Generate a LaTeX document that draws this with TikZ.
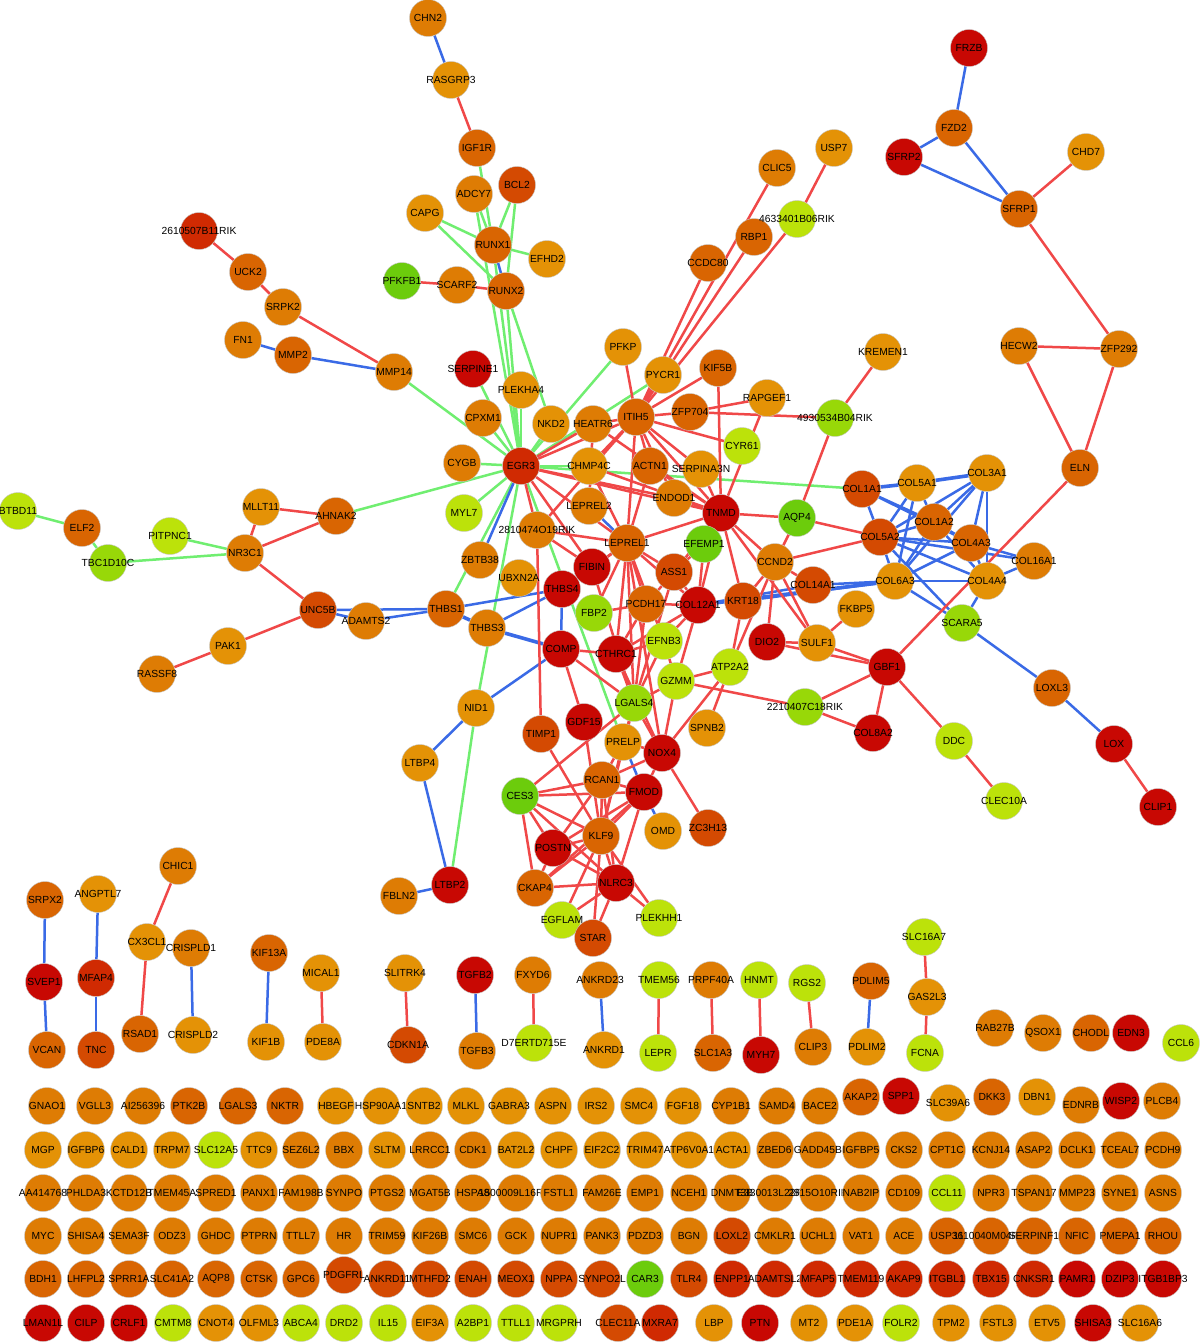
\documentclass[tikz,border=0pt]{standalone}
\usepackage{fontspec}
\setmainfont{Liberation Sans}
\definecolor{rA}{HTML}{C80803}
\definecolor{rB}{HTML}{D02A02}
\definecolor{rC}{HTML}{D44A02}
\definecolor{oA}{HTML}{D96502}
\definecolor{oB}{HTML}{DE7C04}
\definecolor{oC}{HTML}{E49206}
\definecolor{yA}{HTML}{BCE20A}
\definecolor{gA}{HTML}{98D808}
\definecolor{gB}{HTML}{6CCC0C}
\definecolor{edgered}{HTML}{F04848}
\definecolor{edgeblue}{HTML}{3A6AE6}
\definecolor{edgegreen}{HTML}{70EE70}
\pgfdeclarelayer{paper}
\pgfdeclarelayer{edges}
\pgfsetlayers{paper,edges,main}
\tikzset{
  gene/.style={circle, minimum size=37pt, inner sep=0pt, draw=black!22, line width=0.4pt},
  glabel/.style={font=\fontsize{10.3}{11}\selectfont, inner sep=0pt, text=black},
  redge/.style={draw=edgered, line width=2.5pt},
  bedge/.style={draw=edgeblue, line width=2.5pt},
  gedge/.style={draw=edgegreen, line width=2.5pt},
  thick edge/.style={line width=3.6pt}
}
\newcommand{\gene}[4]{\node[gene, fill=#4, label={[glabel]center:#1}] (#1) at (#2,#3) {};}
\begin{document}
\begin{tikzpicture}[x=1pt,y=-1pt]
\begin{pgfonlayer}{paper}
\fill[white] (0,0) rectangle (1200,1343);
\end{pgfonlayer}
\useasboundingbox (0,0) rectangle (1200,1343);

% main network
\foreach \n/\x/\y/\c in {
  CHN2/428/18/oB, RASGRP3/451/80/oC, IGF1R/477/148/oA, ADCY7/474/194/oB,
  BCL2/517/185/rC, CAPG/425/213/oC, RUNX1/493/245/oA, EFHD2/547/259/oC,
  PFKFB1/402/281/gB, SCARF2/457/285/oB, RUNX2/506/291/oA,
  2610507B11RIK/199/231/rB, UCK2/248/272/oA, SRPK2/283/307/oB,
  FN1/243/340/oB, MMP2/293/355/oA, MMP14/394/372/oB,
  SERPINE1/473/369/rA, PLEKHA4/521/390/oC, CPXM1/483/418/oB,
  PFKP/623/347/oC, PYCR1/663/375/oC, KIF5B/718/368/oA,
  NKD2/551/424/oC, HEATR6/593/424/oB, ITIH5/636/417/oA, ZFP704/690/412/oA,
  RAPGEF1/767/398/oC, 4930534B04RIK/835/418/gA, KREMEN1/883/352/oC,
  CYR61/742/446/yA, CCDC80/708/263/oA, RBP1/754/237/oA, CLIC5/777/168/oB,
  USP7/834/148/oC, 4633401B06RIK/797/219/yA,
  CYGB/462/463/oB, EGR3/521/466/rB, CHMP4C/589/466/oC, ACTN1/650/466/oA,
  SERPINA3N/701/469/oC, ENDOD1/674/498/oB, TNMD/721/513/rA,
  MYL7/464/513/yA, LEPREL2/589/506/oB, 2810474O19RIK/537/530/oB,
  LEPREL1/627/543/oA, EFEMP1/704/544/gB, ZBTB38/480/560/oB,
  UBXN2A/519/578/oC, FIBIN/592/567/rA, ASS1/674/572/rC,
  THBS4/562/589/rA, FBP2/594/613/gA, PCDH17/646/604/oA,
  COL12A1/698/605/rA, KRT18/743/601/rC,
  THBS1/446/609/oA, ADAMTS2/366/621/oB, THBS3/487/628/oB,
  COMP/561/649/rA, CTHRC1/616/654/rA, EFNB3/664/641/yA,
  GZMM/676/681/yA, LGALS4/634/703/gA, ATP2A2/730/667/yA,
  SPNB2/707/728/oC, NID1/476/708/oC, LTBP4/420/763/oC,
  TIMP1/541/734/rC, GDF15/584/722/rA, PRELP/623/742/oC,
  NOX4/662/753/rA, RCAN1/602/780/oA, FMOD/644/792/rA,
  CES3/520/796/gB, OMD/663/831/oC, ZC3H13/708/828/rC,
  KLF9/601/836/oA, POSTN/553/848/rA, CKAP4/535/888/oA,
  NLRC3/616/883/rA, EGFLAM/562/920/yA, STAR/593/938/rC,
  PLEKHH1/659/918/yA, LTBP2/450/885/rA, FBLN2/399/896/oB,
  MLLT11/261/507/oC, AHNAK2/336/516/oA, NR3C1/245/553/oB,
  PITPNC1/170/536/yA, TBC1D10C/108/563/gA, ELF2/82/528/oA,
  BTBD11/18/511/yA, UNC5B/318/610/rC, PAK1/228/646/oC, RASSF8/157/674/oB,
  CCND2/775/562/oB, AQP4/797/518/gB, COL14A1/813/585/rC,
  FKBP5/856/609/oC, DIO2/767/642/rA, SULF1/817/643/oC,
  GBF1/887/667/rA, 2210407C18RIK/805/707/gA, COL8A2/873/733/rA,
  DDC/954/741/yA, CLEC10A/1004/801/yA, SCARA5/962/623/gA,
  LOXL3/1052/688/oA, LOX/1114/744/rA, CLIP1/1158/807/rA,
  COL1A1/862/489/rC, COL5A1/917/483/oC, COL3A1/987/473/oC,
  COL1A2/934/522/oA, COL5A2/880/537/rC, COL4A3/971/543/oA,
  COL16A1/1034/561/oB, COL6A3/895/581/oC, COL4A4/987/581/oC,
  ELN/1080/468/oA, HECW2/1019/346/oB, ZFP292/1119/349/oB,
  SFRP1/1019/209/oA, CHD7/1086/152/oC, FZD2/954/128/oA,
  SFRP2/904/157/rA, FRZB/969/48/rA}
  {\gene{\n}{\x}{\y}{\c}}

% small groups
\foreach \n/\x/\y/\c in {
  SRPX2/45/900/oA, SVEP1/44/982/rA, VCAN/47/1050/oA,
  ANGPTL7/98/894/oC, MFAP4/96/978/rB, TNC/96/1050/rC,
  CHIC1/178/866/oB, CX3CL1/147/942/oC, RSAD1/140/1034/oA,
  CRISPLD1/191/948/oB, CRISPLD2/193/1035/oC,
  KIF13A/269/953/oA, KIF1B/266/1042/oC,
  MICAL1/321/973/oC, PDE8A/323/1042/oC,
  SLITRK4/405/973/oC, CDKN1A/408/1045/rC,
  TGFB2/475/975/rA, TGFB3/477/1051/oB,
  FXYD6/533/975/oB, D7ERTD715E/534/1043/yA,
  ANKRD23/600/980/oB, ANKRD1/604/1050/oC,
  TMEM56/659/980/yA, LEPR/658/1053/yA,
  PRPF40A/711/980/oB, SLC1A3/713/1053/oA,
  HNMT/759/980/yA, MYH7/761/1055/rA,
  RGS2/807/983/yA, CLIP3/813/1047/oB,
  PDLIM5/871/981/oA, PDLIM2/867/1047/oC,
  SLC16A7/924/937/yA, GAS2L3/927/997/oC, FCNA/925/1053/yA,
  RAB27B/995/1028/oB, QSOX1/1043/1033/oB, CHODL/1091/1033/oA,
  EDN3/1131/1033/rA, CCL6/1181/1043/yA}
  {\gene{\n}{\x}{\y}{\c}}

% unconnected genes
\foreach \n/\x/\y/\c in {
  GNAO1/47/1106/oB, VGLL3/95/1106/oB, AI256396/143/1106/oB, PTK2B/189/1106/oA,
  LGALS3/238/1106/oA, NKTR/285/1106/oA, HBEGF/336/1106/oC, HSP90AA1/381/1106/oC,
  SNTB2/424/1106/oC, MLKL/466/1106/oC, GABRA3/509/1106/oC, ASPN/553/1106/oC,
  IRS2/596/1106/oC, SMC4/639/1106/oC, FGF18/683/1106/oC, CYP1B1/731/1106/oB,
  SAMD4/777/1106/oB, BACE2/820/1106/oB, AKAP2/861/1097/oA, SPP1/901/1096/rA,
  SLC39A6/948/1103/oC, DKK3/992/1097/oA, DBN1/1037/1097/oC, EDNRB/1081/1105/oB,
  WISP2/1121/1101/rA, PLCB4/1162/1101/oB}
  {\gene{\n}{\x}{\y}{\c}}
\foreach \n/\x/\c in {
  MGP/43/oC, IGFBP6/86/oC, CALD1/129/oC, TRPM7/172/oC, SLC12A5/216/yA,
  TTC9/259/oC, SEZ6L2/301/oB, BBX/344/oB, SLTM/387/oC, LRRCC1/430/oB,
  CDK1/473/oB, BAT2L2/516/oC, CHPF/559/oC, EIF2C2/602/oC, TRIM47/645/oC,
  ATP6V0A1/689/oC, ACTA1/732/oC, ZBED6/775/oB, GADD45B/818/oB, IGFBP5/861/oB,
  CKS2/904/oB, CPT1C/947/oB, KCNJ14/991/oB, ASAP2/1034/oB, DCLK1/1077/oB,
  TCEAL7/1120/oB, PCDH9/1163/oB}
  {\gene{\n}{\x}{1150}{\c}}
\foreach \n/\x/\c in {
  AA414768/43/oB, PHLDA3/86/oB, KCTD12B/129/oB, TMEM45A/172/oB, SPRED1/216/oB,
  PANX1/259/oB, FAM198B/301/oB, SYNPO/344/oB, PTGS2/387/oB, MGAT5B/430/oB,
  HSPA8/473/oB, 1500009L16RIK/516/oB, FSTL1/559/oB, FAM26E/602/oB, EMP1/645/oB,
  NCEH1/689/oB, DNMT3B/732/oB, E330013L22RIK/775/oB, 2815O10RIK/818/oB,
  NAB2IP/861/oB, CD109/904/oB, CCL11/947/yA, NPR3/991/oB, TSPAN17/1034/oB,
  MMP23/1077/oB, SYNE1/1120/oB, ASNS/1163/oB}
  {\gene{\n}{\x}{1193}{\c}}
\foreach \n/\x/\c in {
  MYC/43/oB, SHISA4/86/oB, SEMA3F/129/oB, ODZ3/172/oB, GHDC/216/oB,
  PTPRN/259/oB, TTLL7/301/oB, HR/344/oB, TRIM59/387/oB, KIF26B/430/oB,
  SMC6/473/oB, GCK/516/oB, NUPR1/559/oB, PANK3/602/oB, PDZD3/645/oB,
  BGN/689/oB, LOXL2/732/rC, CMKLR1/775/oB, UCHL1/818/oB, VAT1/861/oB,
  ACE/904/oB, USP36/947/oA, 1110040M04RIK/991/oA, SERPINF1/1034/oA,
  NFIC/1077/oA, PMEPA1/1120/oA, RHOU/1163/oA}
  {\gene{\n}{\x}{1236}{\c}}
\foreach \n/\x/\c in {
  BDH1/43/oA, LHFPL2/86/oA, SPRR1A/129/oA, SLC41A2/172/oA, AQP8/216/oA,
  CTSK/259/oA, GPC6/301/oA, ANKRD11/387/rC, MTHFD2/430/rC,
  ENAH/473/rC, MEOX1/516/rC, NPPA/559/rC, SYNPO2L/602/rC, CAR3/645/gB,
  TLR4/689/rC, ENPP1/732/rB, ADAMTSL2/775/rB, MFAP5/818/rB, TMEM119/861/rB,
  AKAP9/904/rB, ITGBL1/947/rB, TBX15/991/rB, CNKSR1/1034/rB, PAMR1/1077/rA,
  DZIP3/1120/rA, ITGB1BP3/1163/rA}
  {\gene{\n}{\x}{1279}{\c}}
\gene{PDGFRL}{344}{1275}{rC}
\foreach \n/\x/\c in {
  LMAN1L/43/rA, CILP/86/rA, CRLF1/129/rA, CMTM8/173/yA, CNOT4/216/oC,
  OLFML3/259/oC, ABCA4/301/yA, DRD2/344/yA, IL15/388/yA, EIF3A/430/oC,
  A2BP1/473/yA, TTLL1/516/yA, MRGPRH/559/yA, CLEC11A/618/rC, MXRA7/660/rB,
  LBP/714/oC, PTN/760/rA, MT2/809/oC, PDE1A/855/oC, FOLR2/901/yA,
  TPM2/951/oC, FSTL3/998/oC, ETV5/1047/oC, SHISA3/1093/rA, SLC16A6/1140/oC}
  {\gene{\n}{\x}{1323}{\c}}

\begin{pgfonlayer}{edges}
% green links
\foreach \a/\b in {BTBD11/ELF2, ELF2/TBC1D10C, TBC1D10C/NR3C1, PITPNC1/NR3C1,
  AHNAK2/EGR3, MMP14/EGR3, SERPINE1/EGR3, PLEKHA4/EGR3, CPXM1/EGR3, CYGB/EGR3,
  MYL7/EGR3, NKD2/EGR3, PFKP/EGR3, PYCR1/EGR3, CHMP4C/EGR3, EGR3/COL1A1,
  EGR3/THBS1, EGR3/NID1, NID1/LTBP2, EGR3/PRELP, RUNX1/EGR3, RUNX2/EGR3,
  ADCY7/EGR3, RUNX2/NKD2, IGF1R/RUNX1, ADCY7/RUNX1, CAPG/RUNX1, CAPG/RUNX2,
  BCL2/RUNX1, BCL2/RUNX2, EFHD2/RUNX1}
  \draw[gedge] (\a) -- (\b);
% blue links
\foreach \a/\b in {CHN2/RASGRP3, FN1/MMP2, MMP2/MMP14, RUNX1/RUNX2, EGR3/ZBTB38,
  LEPREL2/LEPREL1, UNC5B/ADAMTS2, UNC5B/THBS1, ADAMTS2/THBS1, THBS1/THBS4,
  THBS3/THBS4, THBS4/COMP, COMP/NID1, NID1/LTBP4, LTBP4/LTBP2, LTBP2/FBLN2,
  PRELP/FMOD, FMOD/OMD, COL12A1/COL14A1, COL14A1/COL6A3, KRT18/COL6A3,
  COL1A1/COL1A2, COL1A1/COL5A2, COL1A1/COL4A3, COL5A1/COL5A2, COL5A1/COL6A3,
  COL5A1/COL1A2, COL3A1/COL1A2, COL3A1/COL5A2, COL3A1/COL4A3, COL3A1/COL4A4,
  COL3A1/COL6A3, COL1A2/COL5A2, COL1A2/COL6A3, COL1A2/COL4A3, COL1A2/COL4A4,
  COL5A2/COL4A3, COL5A2/COL4A4, COL5A2/COL6A3, COL5A2/COL16A1, COL4A3/COL4A4,
  COL4A3/COL16A1, COL4A4/COL16A1, COL6A3/COL4A4, COL6A3/COL4A3, COL6A3/SCARA5,
  COL4A4/SCARA5, COL5A2/SCARA5, SCARA5/LOXL3, LOXL3/LOX, FZD2/FRZB, FZD2/SFRP2,
  FZD2/SFRP1, SFRP2/SFRP1,
  SRPX2/SVEP1, SVEP1/VCAN, ANGPTL7/MFAP4, MFAP4/TNC, CRISPLD1/CRISPLD2,
  KIF13A/KIF1B, TGFB2/TGFB3, ANKRD23/ANKRD1, PDLIM5/PDLIM2}
  \draw[bedge] (\a) -- (\b);
\foreach \a/\b in {THBS1/THBS3, THBS3/COMP, COL12A1/COL6A3, COL1A1/COL5A1,
  COL5A1/COL3A1}
  \draw[bedge, thick edge] (\a) -- (\b);
% red links
\foreach \a/\b in {RASGRP3/IGF1R, PFKFB1/SCARF2, SCARF2/RUNX2,
  2610507B11RIK/UCK2, UCK2/SRPK2, SRPK2/MMP14, MLLT11/AHNAK2, MLLT11/NR3C1,
  NR3C1/AHNAK2, NR3C1/UNC5B, UNC5B/PAK1, PAK1/RASSF8,
  USP7/4633401B06RIK, CLIC5/ITIH5, RBP1/ITIH5, 4633401B06RIK/ITIH5,
  CCDC80/ITIH5, PFKP/ITIH5, PYCR1/ITIH5, KIF5B/ITIH5, KIF5B/TNMD,
  ZFP704/ITIH5, ZFP704/RAPGEF1, ZFP704/4930534B04RIK, ITIH5/CYR61,
  RAPGEF1/TNMD, KREMEN1/4930534B04RIK, 4930534B04RIK/AQP4, AQP4/TNMD,
  AQP4/CCND2, AQP4/COL5A2, CCND2/COL5A2,
  ITIH5/SERPINA3N, ITIH5/TNMD, ITIH5/ENDOD1, ITIH5/ACTN1, ITIH5/EGR3,
  ITIH5/HEATR6, ITIH5/CHMP4C, ITIH5/LEPREL1, ITIH5/2810474O19RIK,
  EGR3/HEATR6, EGR3/TNMD, EGR3/ENDOD1, EGR3/LEPREL1, EGR3/2810474O19RIK,
  EGR3/FIBIN, HEATR6/LEPREL2, HEATR6/TNMD, CHMP4C/TNMD, CHMP4C/LEPREL1,
  SERPINA3N/TNMD, ENDOD1/TNMD, ACTN1/TNMD, ACTN1/LEPREL1,
  TNMD/EFEMP1, TNMD/CCND2, TNMD/COL12A1, TNMD/LEPREL1, TNMD/KRT18,
  TNMD/SULF1, TNMD/ASS1, CCND2/DIO2, CCND2/KRT18, CCND2/ATP2A2,
  CCND2/COL14A1, CCND2/SULF1,
  LEPREL1/FIBIN, LEPREL1/ASS1, LEPREL1/PCDH17, LEPREL1/COL12A1,
  LEPREL1/CTHRC1, LEPREL1/LGALS4, LEPREL1/EFNB3, LEPREL1/THBS4,
  LEPREL1/2810474O19RIK, LEPREL1/NOX4, LEPREL1/FBP2,
  2810474O19RIK/TIMP1, 2810474O19RIK/FIBIN, FIBIN/THBS4, FIBIN/LGALS4,
  ASS1/PCDH17, ASS1/LGALS4, ASS1/EFEMP1, ASS1/COL12A1, FBP2/PCDH17,
  PCDH17/COL12A1, PCDH17/CTHRC1, PCDH17/LGALS4, COL12A1/CTHRC1,
  COL12A1/EFNB3, COL12A1/GZMM, COL12A1/EFEMP1,
  COMP/CTHRC1, COMP/GDF15, COMP/LGALS4, CTHRC1/EFNB3, CTHRC1/LGALS4,
  CTHRC1/NOX4, EFNB3/LGALS4, EFNB3/GZMM, GZMM/ATP2A2, GZMM/LGALS4,
  GZMM/NOX4, GZMM/2210407C18RIK, ATP2A2/SPNB2, ATP2A2/NOX4, ATP2A2/KRT18,
  LGALS4/PRELP, LGALS4/NOX4, LGALS4/CES3, LGALS4/KLF9, GDF15/KLF9,
  TIMP1/KLF9, PRELP/KLF9, PRELP/RCAN1, PRELP/NOX4, NOX4/FMOD, NOX4/ZC3H13,
  NOX4/RCAN1, CES3/RCAN1, CES3/FMOD, CES3/KLF9, CES3/POSTN, CES3/NLRC3,
  CES3/CKAP4, RCAN1/FMOD, RCAN1/KLF9, RCAN1/POSTN, RCAN1/NLRC3,
  FMOD/KLF9, FMOD/POSTN, FMOD/NLRC3, FMOD/CKAP4, KLF9/POSTN, KLF9/NLRC3,
  KLF9/CKAP4, KLF9/STAR, KLF9/PLEKHH1, KLF9/EGFLAM, POSTN/NLRC3,
  POSTN/CKAP4, CKAP4/NLRC3, NLRC3/STAR, NLRC3/EGFLAM, NLRC3/PLEKHH1,
  DIO2/SULF1, DIO2/GBF1, SULF1/GBF1, FKBP5/SULF1, GBF1/2210407C18RIK,
  GBF1/COL8A2, GBF1/DDC, GBF1/ELN, 2210407C18RIK/COL8A2, DDC/CLEC10A,
  LOX/CLIP1, ELN/HECW2, ELN/ZFP292, HECW2/ZFP292, ZFP292/SFRP1, SFRP1/CHD7,
  CHIC1/CX3CL1, CX3CL1/RSAD1, MICAL1/PDE8A, SLITRK4/CDKN1A,
  FXYD6/D7ERTD715E, TMEM56/LEPR, PRPF40A/SLC1A3, HNMT/MYH7, RGS2/CLIP3,
  SLC16A7/GAS2L3, GAS2L3/FCNA}
  \draw[redge] (\a) -- (\b);
\end{pgfonlayer}
\end{tikzpicture}
\end{document}
